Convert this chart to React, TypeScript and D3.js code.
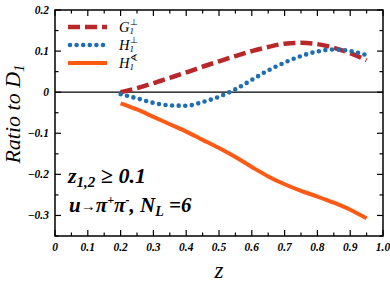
import React from 'react';
import * as d3 from 'd3';

const zValues = [0.2, 0.25, 0.3, 0.35, 0.4, 0.45, 0.5, 0.55, 0.6, 0.65, 0.7, 0.75, 0.8, 0.85, 0.9, 0.95];
const gPerp = [0, 0.01, 0.022, 0.035, 0.048, 0.062, 0.075, 0.088, 0.1, 0.11, 0.118, 0.12, 0.117, 0.108, 0.095, 0.078];
const hPerp = [-0.005, -0.015, -0.026, -0.032, -0.033, -0.024, -0.011, 0.007, 0.03, 0.053, 0.072, 0.088, 0.099, 0.104, 0.1, 0.09];
const hAngle = [-0.027, -0.042, -0.06, -0.078, -0.096, -0.116, -0.136, -0.158, -0.182, -0.205, -0.224, -0.24, -0.254, -0.269, -0.286, -0.307];

const xTicks = [0, 0.1, 0.2, 0.3, 0.4, 0.5, 0.6, 0.7, 0.8, 0.9, 1.0];
const xTickLabels = ['0', '0.1', '0.2', '0.3', '0.4', '0.5', '0.6', '0.7', '0.8', '0.9', '1.0'];
const yTicks = [0.2, 0.1, 0, -0.1, -0.2, -0.3];
const yTickLabels = ['0.2', '0.1', '0', '\u22120.1', '\u22120.2', '\u22120.3'];

const W = 390;
const H = 293;
const left = 55, right = 383, top = 10, bottom = 236;
const font = '"Liberation Serif", "Times New Roman", serif';

export default function App() {
  const x = d3.scaleLinear().domain([0, 1]).range([left, right]);
  const y = d3.scaleLinear().domain([-0.35, 0.2]).range([bottom, top]);

  const line = d3.line<number>()
    .x((d, i) => x(zValues[i]))
    .y(d => y(d))
    .curve(d3.curveMonotoneX);

  const xMinor = d3.range(0, 21).map(i => i * 0.05);
  const yMinor = d3.range(0, 12).map(i => -0.35 + i * 0.05);

  const series = [
    { data: hAngle, color: '#ff5a14', dash: undefined, width: 4, cap: 'butt' },
    { data: gPerp, color: '#b8282a', dash: '12 5', width: 4.5, cap: 'butt' },
    { data: hPerp, color: '#1f6db3', dash: '0 6.6', width: 4.6, cap: 'round' },
  ];

  const legend = [
    { color: '#b8282a', dash: '12 5', width: 4.5, cap: 'butt', base: 'G', sup: '\u22a5' },
    { color: '#1f6db3', dash: '0 6.6', width: 4.6, cap: 'round', base: 'H', sup: '\u22a5' },
    { color: '#ff5a14', dash: undefined, width: 4, cap: 'butt', base: 'H', sup: '\u2222' },
  ];

  return (
    <div style={{ position: 'fixed', left: 0, top: 0 }}>
      <svg width={W} height={H} style={{ display: 'block', background: '#fff' }}>
        {/* zero line */}
        <line x1={left} x2={right} y1={y(0)} y2={y(0)} stroke="#000" strokeWidth={1.3} />

        {/* ticks */}
        {xMinor.map((t, i) => {
          const len = i % 2 === 0 ? 6 : 3.5;
          return (
            <g key={'xt' + i}>
              <line x1={x(t)} x2={x(t)} y1={bottom} y2={bottom - len} stroke="#000" strokeWidth={1.2} />
              <line x1={x(t)} x2={x(t)} y1={top} y2={top + len} stroke="#000" strokeWidth={1.2} />
            </g>
          );
        })}
        {yMinor.map((t, i) => {
          const len = i % 2 === 1 ? 6 : 3.5;
          return (
            <g key={'yt' + i}>
              <line x1={left} x2={left + len} y1={y(t)} y2={y(t)} stroke="#000" strokeWidth={1.2} />
              <line x1={right} x2={right - len} y1={y(t)} y2={y(t)} stroke="#000" strokeWidth={1.2} />
            </g>
          );
        })}

        {/* frame */}
        <rect x={left} y={top} width={right - left} height={bottom - top} fill="none" stroke="#000" strokeWidth={1.5} />

        {/* tick labels */}
        {xTicks.map((t, i) => (
          <text key={'xl' + i} x={x(t)} y={251} textAnchor="middle" fontFamily={font}
            fontSize={11.5} fontWeight="bold" fontStyle="italic">{xTickLabels[i]}</text>
        ))}
        {yTicks.map((t, i) => (
          <text key={'yl' + i} x={49} y={y(t) + 4} textAnchor="end" fontFamily={font}
            fontSize={11.5} fontWeight="bold" fontStyle="italic">{yTickLabels[i]}</text>
        ))}

        {/* axis titles */}
        <text x={x(0.5)} y={278} textAnchor="middle" fontFamily={font} fontSize={23}
          fontStyle="italic">z</text>
        <text transform={`translate(20, 114) rotate(-90)`} textAnchor="middle" fontFamily={font}
          fontSize={22} fontStyle="italic">
          Ratio  to  D<tspan fontSize={15} dy={4}>1</tspan>
        </text>

        {/* curves */}
        {series.map((s, i) => (
          <path key={'s' + i} d={line(s.data) || ''} fill="none" stroke={s.color}
            strokeWidth={s.width} strokeDasharray={s.dash} strokeLinecap={s.cap as any} />
        ))}

        {/* legend */}
        {legend.map((l, i) => {
          const ly = 27 + i * 18;
          return (
            <g key={'lg' + i}>
              <line x1={l.cap === 'round' ? 70 : 68} x2={107} y1={ly} y2={ly} stroke={l.color}
                strokeWidth={l.width} strokeDasharray={l.dash} strokeLinecap={l.cap as any} />
              <text x={119} y={ly + 5} fontFamily={font} fontSize={14.5} fontStyle="italic">
                {l.base}<tspan fontSize={9} dy={2}>1</tspan>
                <tspan fontSize={9} fontStyle="normal" dx={-4} dy={-9}>{l.sup}</tspan>
              </text>
            </g>
          );
        })}

        {/* annotations */}
        <text x={68} y={183} fontFamily={font} fontSize={22} fontWeight="bold" fontStyle="italic">
          z<tspan fontSize={15} dy={4}>1,2</tspan><tspan dy={-4}> {'\u2265'} 0.1</tspan>
        </text>
        <text x={69} y={212} fontFamily={font} fontSize={21} fontWeight="bold" fontStyle="italic">
          u<tspan fontSize={15} dy={-1}>{'\u2192'}</tspan><tspan dy={1}>{'\u03c0'}</tspan>
          <tspan fontSize={12} dy={-8}>+</tspan><tspan dy={8}>{'\u03c0'}</tspan>
          <tspan fontSize={12} dy={-8}>-</tspan><tspan dy={8}>, N</tspan>
          <tspan fontSize={14} dy={4}>L</tspan><tspan dy={-4}> =6</tspan>
        </text>
      </svg>
    </div>
  );
}
